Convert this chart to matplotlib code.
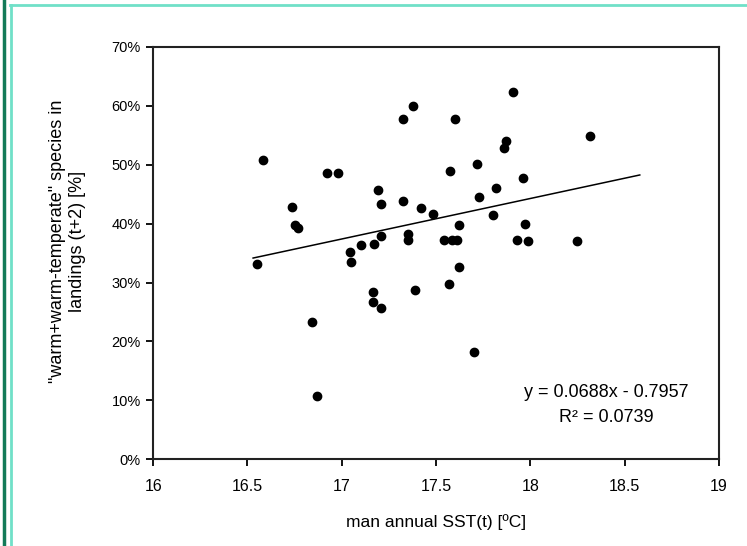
import numpy as np
import matplotlib
matplotlib.use("Agg")
import matplotlib.pyplot as plt
from matplotlib.ticker import PercentFormatter
from matplotlib.lines import Line2D

plt.rcParams['font.family'] = ['Liberation Sans', 'DejaVu Sans']

# mean annual SST(t) [ºC] and share of warm species in landings (t+2) [%]
sst = [16.55, 16.585, 16.735, 16.75, 16.77, 16.84, 16.867, 16.92, 16.98, 17.044,
       17.05, 17.10, 17.164, 17.164, 17.17, 17.194, 17.21, 17.21, 17.21, 17.327,
       17.327, 17.35, 17.35, 17.38, 17.39, 17.42, 17.485, 17.54, 17.57, 17.574,
       17.585, 17.60, 17.61, 17.62, 17.62, 17.70, 17.715, 17.73, 17.80, 17.82,
       17.86, 17.87, 17.91, 17.93, 17.96, 17.97, 17.99, 18.245, 18.316]
share = [33.1, 50.8, 42.8, 39.8, 39.3, 23.3, 10.7, 48.6, 48.6, 35.2,
         33.5, 36.3, 28.4, 26.7, 36.5, 45.7, 43.4, 37.9, 25.6, 57.7,
         43.9, 38.2, 37.2, 60.0, 28.8, 42.7, 41.7, 37.2, 29.7, 49.0,
         37.2, 57.7, 37.2, 39.8, 32.6, 18.2, 50.2, 44.5, 41.5, 46.0,
         52.8, 54.1, 62.4, 37.2, 47.7, 40.0, 37.1, 37.1, 54.9]

# linear trendline (Excel style)
slope = 0.0688
intercept = -0.7957
r2 = 0.0739
trend_x = np.array([16.53, 18.58])
trend_y = (slope * trend_x + intercept) * 100

fig = plt.figure(figsize=(7.47, 5.46), dpi=100)
ax = fig.add_axes([0.205, 0.159, 0.7575, 0.755])

ax.plot(sst, share, linestyle='none', marker='o', markersize=6,
        color='black', markeredgecolor='black')
ax.plot(trend_x, trend_y, color='black', linewidth=1.1)

ax.set_xlim(16, 19)
ax.set_ylim(0, 70)
ax.set_xticks(np.arange(16, 19.01, 0.5))
ax.set_xticklabels(['16', '16.5', '17', '17.5', '18', '18.5', '19'])
ax.set_yticks(np.arange(0, 71, 10))
ax.yaxis.set_major_formatter(PercentFormatter(100, decimals=0))
ax.tick_params(direction='out', length=5, width=1.3, labelsize=10.5, pad=4)
ax.tick_params(axis='x', labelsize=11.5, pad=9)

for sp in ax.spines.values():
    sp.set_linewidth(1.5)
    sp.set_color('#222222')

ax.set_xlabel('man annual SST(t) [ºC]', fontsize=12.5)
ax.xaxis.set_label_coords(0.5, -0.133)
ax.set_ylabel('"warm+warm-temperate" species in\nlandings (t+2) [%]',
              fontsize=13, linespacing=1.25)
ax.yaxis.set_label_coords(-0.118, 0.529)

ax.text(18.40, 11.4, 'y = 0.0688x - 0.7957', ha='center', va='center', fontsize=13)
ax.text(18.40, 7.0, 'R² = %.4f' % r2, ha='center', va='center', fontsize=13)

# frame lines around the picture
fig.add_artist(Line2D([4 / 747, 4 / 747], [0, 1], transform=fig.transFigure,
                      color='#137a58', linewidth=2.5))
fig.add_artist(Line2D([11 / 747, 11 / 747], [0, 1 - 5 / 546], transform=fig.transFigure,
                      color='#70e0c8', linewidth=2))
fig.add_artist(Line2D([10 / 747, 1], [1 - 5 / 546, 1 - 5 / 546], transform=fig.transFigure,
                      color='#70e0c8', linewidth=2))

fig.savefig('out.png', dpi=100)
